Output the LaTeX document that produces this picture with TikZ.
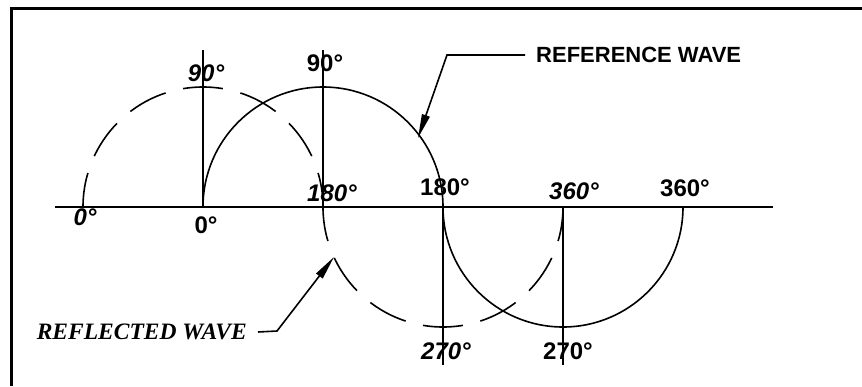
\documentclass[tikz,border=0pt]{standalone}
\usepackage{fontspec}
\setmainfont{Liberation Sans}
\newfontfamily\slabfont{Liberation Serif}
\usetikzlibrary{arrows.meta, positioning}

\begin{document}
\begin{tikzpicture}[x=1pt, y=1pt]
    \tikzstyle{upright} = [font=\fontsize{24}{26}\selectfont\bfseries, inner sep=0pt]
    \tikzstyle{slanted} = [font=\fontsize{24}{26}\selectfont\bfseries\itshape, inner sep=0pt]
    \tikzstyle{caption} = [font=\fontsize{22}{24}\selectfont\bfseries, inner sep=0pt, inner xsep=11pt]
    \tikzstyle{wave} = [line width=1.6pt]
    \tikzstyle{reflected} = [wave, dash pattern=on 40pt off 18pt, dash phase=5.5pt]
    \tikzstyle{guide} = [line width=2pt]
    \tikzstyle{leader} = [line width=1.6pt, -{Triangle[length=24pt, width=8pt]}]

    \useasboundingbox (0,0) rectangle (862,-386);
    \draw[line width=3pt] (11,-386) -- (11,-8) -- (862,-8);

    % axis
    \coordinate (a0) at (55,-207);
    \coordinate (a1) at (773,-207);
    \draw[guide] (a0) -- (a1);

    % points on the axis and the guide ends
    \coordinate (f0) at (83,-207);
    \coordinate (r0) at (203,-207);
    \coordinate (r90) at (323,-207);
    \coordinate (r180) at (443,-207);
    \coordinate (r270) at (563,-207);
    \coordinate (g0) at (203,-50);
    \coordinate (g90) at (323,-50);
    \coordinate (g180) at (443,-365);
    \coordinate (g270) at (563,-365);

    \draw[guide] (g0) -- (r0);
    \draw[guide] (g90) -- (r90);
    \draw[guide] (r180) -- (g180);
    \draw[guide] (r270) -- (g270);

    % reference wave
    \draw[wave] (r0) arc[start angle=180, end angle=0, radius=120]
        arc[start angle=180, end angle=360, radius=120];

    % reflected wave
    \draw[reflected] (f0) arc[start angle=180, end angle=0, radius=120];
    \draw[reflected] (r90) arc[start angle=180, end angle=360, radius=120];

    % degree labels
    \node (d0f) [slanted] at (85,-217) {0°};
    \node (d90f) [slanted] at (206,-73) {90°};
    \node (d180f) [slanted] at (332,-193) {180°};
    \node (d270f) [slanted] at (446,-351) {270°};
    \node (d360f) [slanted] at (574,-191) {360°};
    \node (d0) [upright] at (206,-225) {0°};
    \node (d90) [upright] at (325,-63) {90°};
    \node (d180) [upright] at (445,-187) {180°};
    \node (d270) [upright] at (568,-351) {270°};
    \node (d360) [upright] at (685,-188) {360°};

    % wave captions
    \node (refw) [caption, anchor=west] at (525,-55) {REFERENCE WAVE};
    \node (refl) [caption, font=\fontsize{23.5}{25}\selectfont\slabfont\bfseries\itshape, anchor=east] at (258,-332) {REFLECTED WAVE};

    \coordinate (k1) at (447,-55);
    \coordinate (t1) at (418,-138);
    \coordinate (k2) at (277,-331);
    \coordinate (t2) at (334,-257);
    \draw[leader] (refw.west) -- (k1) -- (t1);
    \draw[leader] (refl.east) -- (k2) -- (t2);
\end{tikzpicture}
\end{document}
